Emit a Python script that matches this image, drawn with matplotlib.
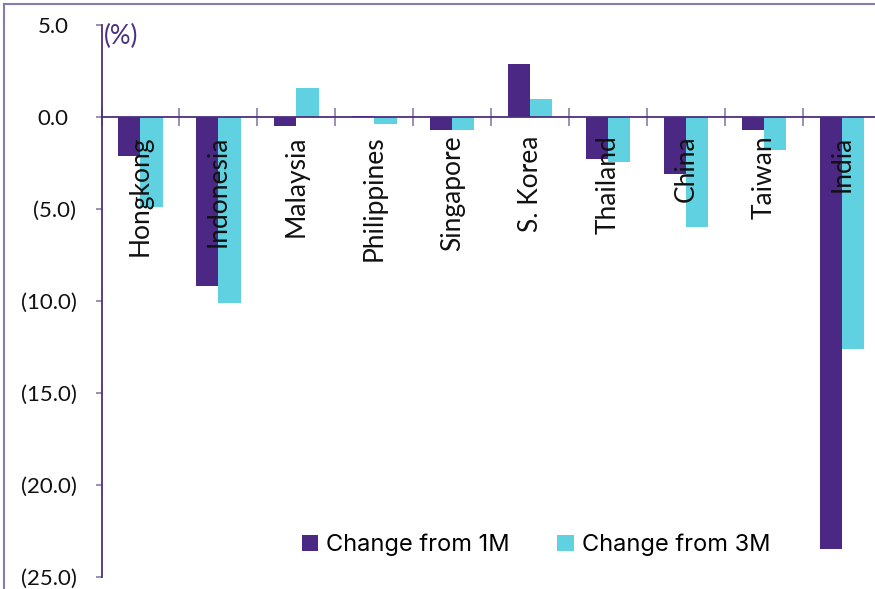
import matplotlib
matplotlib.use("Agg")
import matplotlib.pyplot as plt
import numpy as np
from matplotlib.lines import Line2D
from matplotlib.transforms import ScaledTranslation

categories = ["Hongkong", "Indonesia", "Malaysia", "Philippines", "Singapore",
              "S. Korea", "Thailand", "China", "Taiwan", "India"]
change_1m = [-2.1, -9.2, -0.5, 0.05, -0.7, 2.9, -2.3, -3.1, -0.7, -23.5]
change_3m = [-4.9, -10.1, 1.6, -0.4, -0.7, 1.0, -2.45, -6.0, -1.8, -12.6]
series_names = ["Change from 1M", "Change from 3M"]
y_ticks = [5, 0, -5, -10, -15, -20, -25]
y_tick_labels = ["5.0", "0.0", "(5.0)", "(10.0)", "(15.0)", "(20.0)", "(25.0)"]
unit_label = "(%)"

PURPLE = "#4B2884"
CYAN = "#5FD1E0"
AXIS_PURPLE = "#4B2F80"
TICK_GREY = "#8A7BAA"
LABEL_FONT = ["Lato", "DejaVu Sans"]

W, H = 875, 589
fig = plt.figure(figsize=(W / 100, H / 100), dpi=100)
left, right_px, top_px, bottom_px = 101.5, 881, 25, 577
ax = fig.add_axes([left / W, 1 - bottom_px / H, (right_px - left) / W, (bottom_px - top_px) / H])

x = np.arange(len(categories))
bw = 0.285
ax.bar(x - bw / 2, change_1m, width=bw, color=PURPLE, label=series_names[0], zorder=2)
ax.bar(x + bw / 2, change_3m, width=bw, color=CYAN, label=series_names[1], zorder=2)

ax.set_xlim(-0.5, len(categories) - 0.5)
ax.set_ylim(-25, 5)

# spines
for s in ["top", "right"]:
    ax.spines[s].set_visible(False)
ax.spines["bottom"].set_position(("data", 0))
ax.spines["bottom"].set_color(AXIS_PURPLE)
ax.spines["bottom"].set_linewidth(1.3)
ax.spines["bottom"].set_zorder(3)
ax.spines["left"].set_color(AXIS_PURPLE)
ax.spines["left"].set_linewidth(1.3)

# x ticks at category boundaries, crossing the zero line
ax.set_xticks(np.arange(len(categories)) - 0.5)
ax.set_xticklabels([])
ax.tick_params(axis="x", direction="inout", length=13, width=1.2, color=TICK_GREY)

# y ticks
ax.set_yticks(y_ticks)
ax.set_yticklabels(y_tick_labels)
ax.tick_params(axis="y", direction="out", length=4.5, width=1.2, color=TICK_GREY,
               pad=13.5, labelsize=16, labelcolor="#111111")
for lab in ax.get_yticklabels():
    lab.set_family(LABEL_FONT)
    if not lab.get_text().startswith("("):
        lab.set_transform(lab.get_transform() + ScaledTranslation(-8 / 100, 0, fig.dpi_scale_trans))

# category labels inside the plot, rotated
for xi, name in zip(x, categories):
    ax.annotate(name, xy=(xi, 0), xytext=(0, -13.5), textcoords="offset points",
                rotation=90, ha="center", va="top", fontsize=19,
                family=LABEL_FONT, color="#111111", zorder=4)

# unit label
ax.text(104 / W, 1 - 36 / H, unit_label, transform=fig.transFigure, ha="left", va="center",
        fontsize=18.5, color=AXIS_PURPLE, family=LABEL_FONT)

# legend
leg = fig.legend(loc="center", bbox_to_anchor=(536 / W, 1 - 545 / H), ncol=2, frameon=False,
                 handlelength=0.7, handleheight=0.7, handletextpad=0.35, columnspacing=2.0,
                 prop={"family": ["Inter", "DejaVu Sans"], "size": 17})

# figure border (top and left visible)
bx, by = 3.5 / W, 1 - 4 / H
fig.add_artist(Line2D([bx, bx], [0, by], transform=fig.transFigure, color=TICK_GREY, lw=1.5))
fig.add_artist(Line2D([bx, 1], [by, by], transform=fig.transFigure, color=TICK_GREY, lw=1.5))

fig.savefig("out.png", dpi=100)
